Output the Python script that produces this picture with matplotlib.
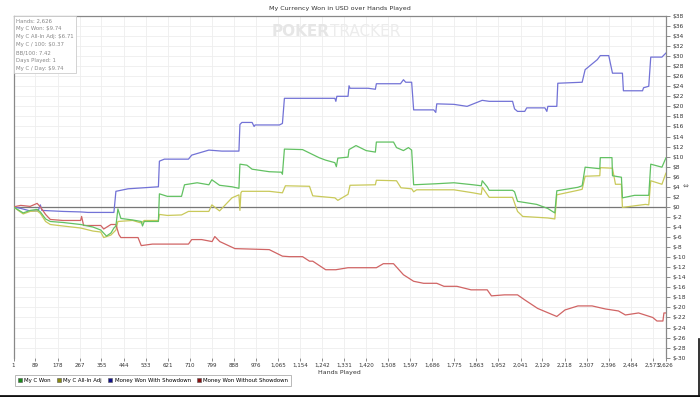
import numpy as np
import matplotlib.pyplot as plt
from matplotlib.lines import Line2D
from matplotlib.patches import Patch

plt.rcParams['font.family'] = ['DejaVu Sans']

# 数据
blue_hands = [1, 30, 68, 100, 109, 115, 200, 271, 300, 405, 413, 462, 584, 588, 608, 705, 718, 787, 839, 908,
              912, 920, 961, 969, 973, 1071, 1083, 1091, 1294, 1298, 1302, 1347, 1351, 1355, 1428, 1457, 1461,
              1558, 1570, 1579, 1603, 1611, 1692, 1700, 1704, 1773, 1826, 1887, 1915, 2009, 2017, 2029, 2058,
              2066, 2139, 2147, 2151, 2187, 2191, 2289, 2301, 2350, 2362, 2396, 2411, 2451, 2455, 2532, 2536,
              2557, 2565, 2610, 2626]
blue_vals = [0, -0.3, -0.8, -0.8, 0.4, -0.7, -0.9, -1.0, -1.1, -1.1, 3.1, 3.6, 4.0, 9.1, 9.5, 9.5, 10.3, 11.3,
             11.1, 11.1, 16.4, 16.8, 16.8, 16.0, 16.3, 16.3, 16.6, 21.6, 21.6, 21.0, 22.0, 22.0, 24.1, 23.6,
             23.6, 23.4, 24.5, 24.5, 25.3, 24.8, 24.8, 19.3, 19.3, 18.8, 20.5, 20.4, 20.0, 21.2, 21.0, 21.0,
             19.5, 19.0, 19.0, 19.7, 19.7, 19.0, 20.0, 20.0, 24.6, 24.8, 27.3, 29.3, 30.1, 30.1, 26.6, 26.6,
             23.1, 23.1, 23.7, 24.0, 29.8, 29.8, 30.6]

green_hands = [1, 20, 40, 68, 96, 109, 130, 149, 200, 271, 320, 352, 375, 393, 405, 413, 421, 433, 480, 515,
               520, 527, 584, 588, 620, 677, 689, 740, 787, 799, 830, 880, 908, 912, 940, 961, 1030, 1080, 1083,
               1091, 1164, 1230, 1257, 1294, 1300, 1306, 1347, 1351, 1379, 1420, 1457, 1461, 1530, 1542, 1570,
               1590, 1603, 1611, 1700, 1773, 1850, 1883, 1887, 1907, 1915, 2009, 2017, 2029, 2106, 2150, 2179,
               2187, 2272, 2289, 2301, 2360, 2362, 2409, 2411, 2447, 2451, 2500, 2557, 2565, 2610, 2626]
green_vals = [0, -0.6, -1.2, -0.7, -0.5, -1.0, -2.4, -2.9, -3.1, -3.5, -4.0, -4.6, -5.8, -5.2, -4.2, -3.8, -0.4,
              -2.3, -2.6, -2.9, -3.8, -2.9, -2.9, 2.6, 2.1, 2.1, 4.4, 4.8, 4.4, 5.4, 4.3, 4.0, 3.7, 8.5, 8.3, 7.5,
              7.0, 6.9, 6.5, 11.5, 11.4, 9.8, 9.3, 8.8, 8.0, 9.7, 9.9, 11.4, 12.2, 11.2, 10.9, 12.9, 12.9, 11.8,
              11.2, 11.8, 11.3, 4.4, 4.6, 4.8, 4.4, 4.2, 5.2, 4.0, 3.3, 3.3, 3.0, 1.1, 0.5, -0.3, -1.2, 3.2, 3.9,
              4.2, 7.9, 7.6, 9.8, 9.8, 6.2, 5.9, 1.8, 2.3, 2.3, 8.5, 7.9, 9.74]

yellow_hands = [1, 20, 40, 68, 96, 109, 130, 149, 200, 271, 320, 352, 364, 393, 413, 421, 480, 515, 527, 584,
                588, 620, 677, 705, 787, 799, 830, 880, 908, 912, 916, 920, 1030, 1083, 1095, 1192, 1205, 1294,
                1306, 1347, 1355, 1457, 1461, 1542, 1560, 1603, 1611, 1623, 1773, 1850, 1883, 1887, 1915, 2009,
                2029, 2050, 2150, 2179, 2187, 2272, 2289, 2301, 2360, 2362, 2411, 2423, 2447, 2451, 2544, 2557,
                2565, 2610, 2626]
yellow_vals = [0, -0.7, -1.4, -0.9, -0.8, -1.3, -2.9, -3.5, -3.8, -4.2, -4.8, -5.0, -6.1, -5.6, -4.6, -2.9,
               -2.7, -3.2, -2.7, -2.7, -1.5, -1.7, -1.6, -0.9, -0.9, 0.4, -0.8, 1.8, 2.4, -0.7, 2.8, 3.1, 3.1,
               2.8, 4.2, 4.1, 2.2, 1.8, 1.3, 2.5, 4.3, 4.4, 5.3, 5.2, 3.8, 3.6, 3.0, 3.4, 3.4, 2.8, 2.5, 3.9, 1.9,
               1.9, -0.9, -1.9, -2.2, -2.4, 2.4, 3.3, 3.5, 6.1, 6.2, 7.8, 7.7, 4.5, 4.5, -0.1, 0.5, 0.4, 5.2,
               4.5, 6.71]

red_hands = [1, 30, 68, 96, 109, 130, 149, 200, 271, 275, 283, 352, 364, 393, 413, 425, 433, 502, 515, 560, 624,
             705, 718, 758, 800, 811, 831, 892, 1030, 1083, 1111, 1164, 1192, 1205, 1257, 1298, 1347, 1461, 1489,
             1530, 1570, 1611, 1651, 1704, 1733, 1785, 1842, 1907, 1924, 1976, 2029, 2058, 2110, 2187, 2220,
             2272, 2329, 2382, 2435, 2463, 2516, 2573, 2590, 2614, 2618, 2626]
red_vals = [0, 0.3, 0.1, 0.7, 0.0, -1.5, -2.5, -2.7, -2.7, -1.9, -3.7, -3.7, -4.4, -3.5, -3.5, -5.5, -6.1, -6.1,
            -7.7, -7.4, -7.4, -7.4, -6.5, -6.5, -6.9, -5.9, -6.9, -8.3, -8.5, -9.8, -9.9, -9.9, -10.8, -10.8,
            -12.5, -12.5, -12.1, -12.1, -11.3, -11.3, -13.5, -14.8, -15.2, -15.2, -15.8, -15.8, -16.5, -16.5,
            -17.7, -17.5, -17.5, -18.5, -20.2, -21.8, -20.5, -19.7, -19.7, -20.3, -20.7, -21.5, -21.1, -22.0,
            -22.7, -22.7, -21.1, -21.1]

x_ticks = [1, 89, 178, 267, 355, 444, 533, 621, 710, 799, 888, 976, 1065, 1154, 1242, 1331, 1420, 1508,
           1597, 1686, 1775, 1863, 1952, 2041, 2129, 2218, 2307, 2396, 2484, 2573, 2626]
y_ticks = list(range(-30, 39, 2))

info_lines = ['Hands: 2,626', 'My C Won: $9.74', 'My C All-In Adj: $6.71', 'My C / 100: $0.37',
              'BB/100: 7.42', 'Days Played: 1', 'My C / Day: $9.74']

fig = plt.figure(figsize=(7.0, 3.97), dpi=100, facecolor='w')
ax = fig.add_axes([0.0193, 0.099, 0.932, 0.861])

ax.plot(blue_hands, blue_vals, color='#7272d6', lw=0.9, zorder=3)
ax.plot(green_hands, green_vals, color='#62c162', lw=0.9, zorder=4)
ax.plot(yellow_hands, yellow_vals, color='#c9c95a', lw=0.9, zorder=3)
ax.plot(red_hands, red_vals, color='#d06464', lw=0.9, zorder=3)
ax.axhline(0, color='#777777', lw=0.9, zorder=2)

ax.set_xlim(1, 2626)
ax.set_ylim(-30, 38)
ax.set_xticks(x_ticks)
ax.set_xticklabels(['{:,}'.format(t) for t in x_ticks], fontsize=4.0, color='#333333')
ax.set_yticks(y_ticks)
ax.set_yticklabels(['$' + str(v) for v in y_ticks], fontsize=4.3, color='#333333')
ax.yaxis.tick_right()
ax.tick_params(axis='y', length=3, width=0.6, color='#777777', pad=1.5)
ax.tick_params(axis='x', length=2, width=0.6, color='#777777', pad=1.5)
ax.grid(True, color='#eeeeee', lw=0.6)
ax.set_axisbelow(True)
for side in ['left', 'top', 'right']:
    ax.spines[side].set_color('#888888')
    ax.spines[side].set_linewidth(0.9)
ax.spines['bottom'].set_visible(False)
ax.set_xlabel('Hands Played', fontsize=4.5, color='#333333', labelpad=1)
ax.xaxis.set_label_coords(0.5, -0.035)

ax.set_title('My Currency Won in USD over Hands Played', fontsize=4.6, color='#333333', pad=4)

# 水印
ax.text(0.485, 0.955, 'POKER', transform=ax.transAxes, ha='right', va='center', fontsize=11,
        fontweight='bold', color='#e6e6e6', zorder=1)
ax.text(0.485, 0.955, 'TRACKER', transform=ax.transAxes, ha='left', va='center', fontsize=11,
        color='#ececec', zorder=1)

# 左上角统计框
ax.text(0.004, 0.993, '\n'.join(info_lines), transform=ax.transAxes, ha='left', va='top', fontsize=3.9,
        color='#888888', linespacing=1.75, zorder=6,
        bbox=dict(boxstyle='square,pad=0.4', fc='white', ec='#cccccc', lw=0.6))

fig.text(0.979, 0.531, '\u21d4', fontsize=5, color='#666666', ha='center', va='center')

handles = [Patch(fc='#1a8a1a', ec='#555555', lw=0.4), Patch(fc='#8a8a10', ec='#555555', lw=0.4),
           Patch(fc='#10108a', ec='#555555', lw=0.4), Patch(fc='#8a1010', ec='#555555', lw=0.4)]
labels = ['My C Won', 'My C All-In Adj', 'Money Won With Showdown', 'Money Won Without Showdown']
leg = fig.legend(handles, labels, loc='lower left', bbox_to_anchor=(0.017, 0.02), ncol=4, fontsize=3.9,
                 handlelength=0.8, handleheight=0.8, handletextpad=0.4, columnspacing=1.1,
                 frameon=True, fancybox=False, borderpad=0.6)
leg.get_frame().set_edgecolor('#999999')
leg.get_frame().set_linewidth(0.6)

fig.add_artist(Line2D([0, 1], [0.003, 0.003], transform=fig.transFigure, color='#111111', lw=2))
fig.add_artist(Line2D([0.998, 0.998], [0.0, 0.145], transform=fig.transFigure, color='#111111', lw=1.2))

plt.savefig('out.png', dpi=100, facecolor='w')
